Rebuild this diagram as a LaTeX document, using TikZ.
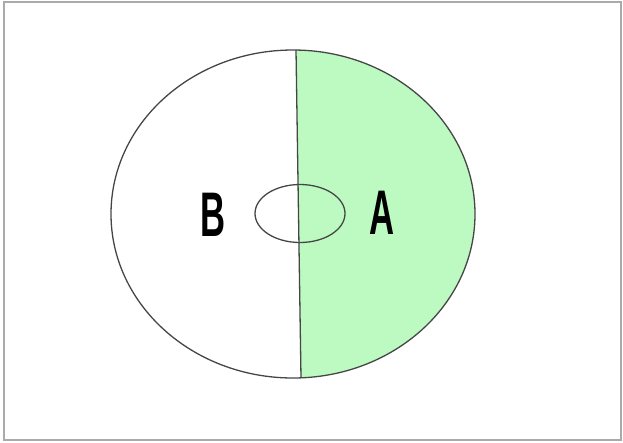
\documentclass[tikz,border=0pt]{standalone}
\usepackage{fontspec}
\setmainfont{Liberation Sans}
\usetikzlibrary{positioning}
\definecolor{halfgreen}{RGB}{188,250,194}
\definecolor{framegray}{RGB}{170,170,170}
\definecolor{inkgray}{RGB}{70,70,70}
\begin{document}
\begin{tikzpicture}[x=1pt, y=-1pt,
    outline/.style={inkgray, line width=1.3pt},
    letter/.style={font=\fontsize{63}{63}\selectfont\bfseries, xscale=0.55, inner sep=0pt}]
    \useasboundingbox (0,0) rectangle (623,442);
    % Frame
    \draw[framegray, line width=1.2pt] (4,2) rectangle (621,440);
    % Dividing line
    \coordinate (top) at (296,50);
    \coordinate (bot) at (301,378);
    % Green half
    \begin{scope}
        \clip (293,214) ellipse [x radius=182, y radius=164];
        \fill[halfgreen] (296,30) -- (301,400) -- (500,400) -- (500,30) -- cycle;
    \end{scope}
    % Outlines
    \draw[outline] (293,214) ellipse [x radius=182, y radius=164];
    \draw[outline] (top) -- (bot);
    \draw[outline] (300,213.5) ellipse [x radius=45, y radius=29];
    % Labels
    \node[letter] (labB) at (213.5,214.5) {B};
    \node[letter] (labA) at (382,212.5) {A};
\end{tikzpicture}
\end{document}
